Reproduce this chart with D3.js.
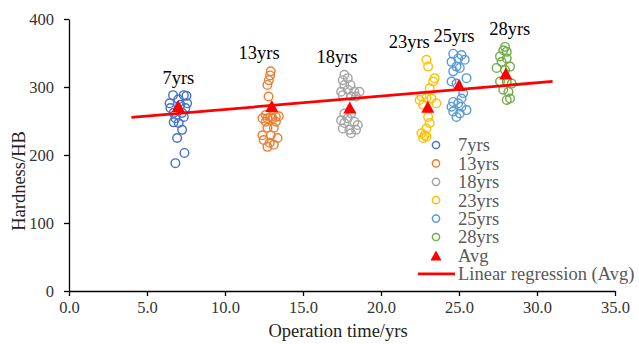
<!DOCTYPE html>
<html>
<head>
<meta charset="utf-8">
<script src="https://cdn.jsdelivr.net/npm/d3@7"></script>
<style>
  html, body { margin: 0; padding: 0; background: #fff; }
  svg { display: block; }
  svg text { font-family: "Liberation Serif", "Times New Roman", serif; }
</style>
</head>
<body>
<svg id="chart" width="639" height="344"></svg>
<script>
// Hardness (HB) measurements by operation time
const groups = ["7yrs", "13yrs", "18yrs", "23yrs", "25yrs", "28yrs"];
const groupYears = [7, 13, 18, 23, 25, 28];

const t7  = [6.67, 7.36, 7.53, 7.01, 6.45, 7.57, 7.14, 6.50, 7.46, 6.71, 7.25, 6.82, 7.36, 6.71, 7.03, 7.25, 6.93, 7.40, 6.82];
const hb7 = [288, 288, 287, 282, 276, 276, 274, 269, 269, 262, 262, 254, 256, 248, 247, 237, 225, 203, 188];

const t13  = [12.93, 12.89, 12.81, 12.72, 12.79, 12.61, 12.93, 13.26, 12.40, 12.72, 13.04, 13.45, 12.61, 13.26, 12.72, 13.13, 12.40, 12.93, 12.48, 13.37, 12.87, 13.13, 12.72];
const hb13 = [323, 317, 310, 303, 286, 259, 256, 256, 254, 254, 254, 257, 249, 249, 240, 240, 229, 229, 222, 225, 218, 215, 212];

const t18  = [17.65, 17.55, 17.87, 17.65, 18.04, 17.44, 17.87, 18.29, 18.62, 17.55, 18.08, 18.40, 17.65, 18.08, 17.44, 17.87, 17.65, 18.29, 18.51, 17.55, 17.97, 18.40, 18.08];
const hb18 = [318, 310, 313, 303, 303, 293, 296, 293, 293, 288, 286, 286, 261, 261, 251, 254, 247, 249, 244, 239, 237, 237, 232];

const t23  = [22.91, 23.02, 23.44, 23.34, 23.12, 22.59, 22.91, 23.23, 22.48, 23.55, 22.70, 23.02, 23.12, 22.91, 22.59, 22.80, 22.70, 22.91];
const hb23 = [340, 330, 313, 308, 298, 286, 284, 283, 281, 276, 274, 256, 247, 239, 232, 229, 225, 227];

const t25  = [24.63, 25.16, 24.95, 24.52, 25.37, 24.84, 25.05, 24.63, 25.48, 24.52, 24.84, 25.27, 25.16, 24.63, 24.95, 24.52, 25.16, 25.48, 24.63, 25.05, 24.84];
const hb25 = [349, 347, 342, 337, 340, 330, 328, 323, 313, 308, 305, 291, 283, 278, 276, 271, 271, 266, 264, 261, 256];

const t28  = [27.95, 27.84, 28.06, 27.63, 28.06, 27.73, 27.41, 28.27, 27.95, 27.63, 28.06, 28.38, 27.84, 28.17, 28.27, 28.06];
const hb28 = [359, 354, 352, 345, 342, 337, 328, 330, 325, 308, 308, 305, 296, 293, 283, 281];

// Average hardness per group
const avgHB = [272, 272, 270, 271, 303, 320];

// Axis ticks
const xTicks = [0, 5, 10, 15, 20, 25, 30, 35];
const yTicks = [0, 100, 200, 300, 400];

const colors = ["#4472C4", "#ED7D31", "#A5A5A5", "#FFC000", "#5B9BD5", "#70AD47"];
const red = "#FF0000";

const series = [[t7, hb7], [t13, hb13], [t18, hb18], [t23, hb23], [t25, hb25], [t28, hb28]];

const svg = d3.select("#chart");
const x = d3.scaleLinear().domain([0, 35]).range([69, 615]);
const y = d3.scaleLinear().domain([0, 400]).range([291, 19]);

// Axes
const xAxis = svg.append("g")
  .attr("transform", `translate(0,${y(0)})`)
  .call(d3.axisBottom(x).tickValues(xTicks).tickFormat(d3.format(".1f")).tickSize(5).tickSizeOuter(0))
  .attr("font-family", null).attr("font-size", null);
xAxis.selectAll("text").attr("y", 22).attr("dy", 0)
  .style("font-size", "16.5px").attr("fill", "#333");

const yAxis = svg.append("g")
  .attr("transform", `translate(${x(0)},0)`)
  .call(d3.axisLeft(y).tickValues(yTicks).tickSize(5).tickSizeOuter(0))
  .attr("font-family", null).attr("font-size", null);
yAxis.selectAll("text").attr("x", -15).attr("dy", "0.33em")
  .style("font-size", "16.5px").attr("fill", "#333");

svg.selectAll(".domain, .tick line").attr("stroke", "#000").attr("stroke-width", 1.3);

// Axis titles
svg.append("text")
  .attr("x", 338).attr("y", 337)
  .attr("text-anchor", "middle")
  .style("font-size", "18.5px").attr("fill", "#222")
  .text("Operation time/yrs");

svg.append("text")
  .attr("transform", `translate(19,181) rotate(-90)`)
  .attr("text-anchor", "middle").attr("dy", "0.35em")
  .style("font-size", "18.5px").attr("fill", "#222")
  .text("Hardness/HB");

// Measurement points
series.forEach(([ts, hs], i) => {
  svg.append("g").selectAll("circle")
    .data(hs.map((h, j) => ({ t: ts[j], h })))
    .join("circle")
    .attr("cx", d => x(d.t))
    .attr("cy", d => y(d.h))
    .attr("r", 4.3)
    .attr("fill", "none")
    .attr("stroke", colors[i])
    .attr("stroke-width", 1.4);
});

// Linear regression through the group averages
const mx = d3.mean(groupYears), my = d3.mean(avgHB);
const slope = d3.sum(groupYears, (g, i) => (g - mx) * (avgHB[i] - my)) / d3.sum(groupYears, g => (g - mx) ** 2);
const intercept = my - slope * mx;
const regX = [4, 31];
svg.append("line")
  .attr("x1", x(regX[0])).attr("y1", y(intercept + slope * regX[0]))
  .attr("x2", x(regX[1])).attr("y2", y(intercept + slope * regX[1]))
  .attr("stroke", red).attr("stroke-width", 2.8);

// Average markers
const tri = (w, h) => `M0,${-h / 2}L${w / 2},${h / 2}L${-w / 2},${h / 2}Z`;
svg.append("g").selectAll("path")
  .data(groupYears.map((g, i) => ({ g, a: avgHB[i] })))
  .join("path")
  .attr("transform", d => `translate(${x(d.g)},${y(d.a)})`)
  .attr("d", tri(13, 12))
  .attr("fill", red);

// Group labels (anchored in data units)
const labelAnchor = [[7.01, 304], [12.19, 341], [17.18, 335], [21.81, 357], [24.68, 366], [28.25, 376]];
svg.append("g").selectAll("text")
  .data(groups)
  .join("text")
  .attr("x", (d, i) => x(labelAnchor[i][0]))
  .attr("y", (d, i) => y(labelAnchor[i][1]))
  .attr("text-anchor", "middle")
  .style("font-size", "18.5px").attr("fill", "#000")
  .text(d => d);

// Legend
const lg = svg.append("g");
const rowY = i => 145 + i * 18.4;
groups.forEach((name, i) => {
  lg.append("circle").attr("cx", 436).attr("cy", rowY(i)).attr("r", 3.6)
    .attr("fill", "none").attr("stroke", colors[i]).attr("stroke-width", 1.5);
  lg.append("text").attr("x", 458).attr("y", rowY(i)).attr("dy", "0.35em")
    .style("font-size", "18.5px").attr("fill", "#595959").text(name);
});
lg.append("path").attr("transform", `translate(436,${rowY(6)})`).attr("d", tri(11, 10)).attr("fill", red);
lg.append("text").attr("x", 458).attr("y", rowY(6)).attr("dy", "0.35em")
  .style("font-size", "18.5px").attr("fill", "#595959").text("Avg");
lg.append("line").attr("x1", 418).attr("x2", 455).attr("y1", rowY(7)).attr("y2", rowY(7))
  .attr("stroke", red).attr("stroke-width", 2.8);
lg.append("text").attr("x", 458).attr("y", rowY(7)).attr("dy", "0.35em")
  .style("font-size", "18.5px").attr("fill", "#595959").text("Linear regression (Avg)");
</script>
</body>
</html>
